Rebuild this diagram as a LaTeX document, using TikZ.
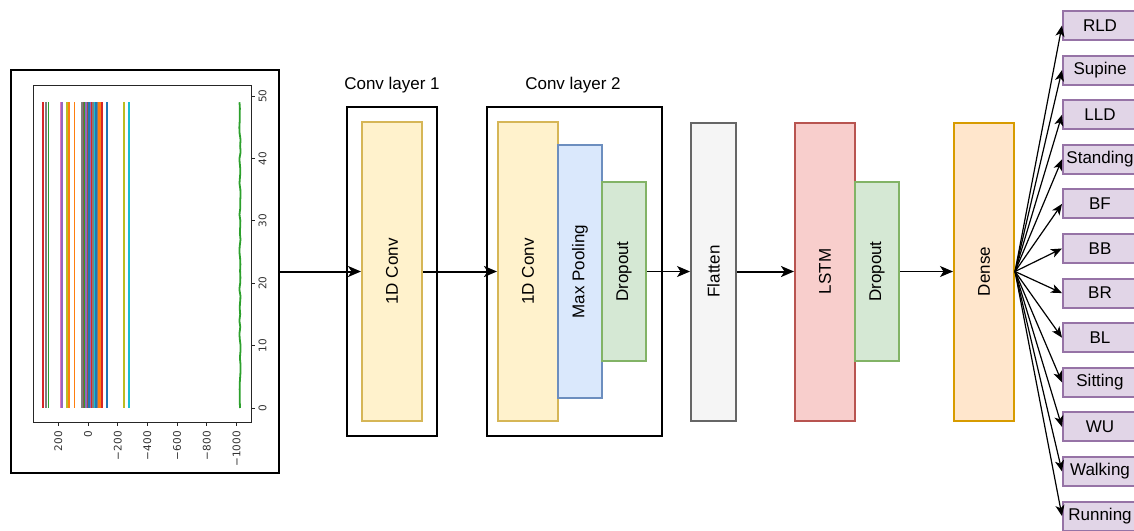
\documentclass[tikz,border=0pt]{standalone}
\usepackage{fontspec}
\setmainfont{Liberation Sans}
\newfontfamily\plotfont{DejaVu Sans}
\usetikzlibrary{arrows.meta}

% layer colours
\definecolor{convfill}{HTML}{FFF2CC}\definecolor{convline}{HTML}{D6B656}
\definecolor{poolfill}{HTML}{DAE8FC}\definecolor{poolline}{HTML}{6C8EBF}
\definecolor{dropfill}{HTML}{D5E8D4}\definecolor{dropline}{HTML}{82B366}
\definecolor{flatfill}{HTML}{F5F5F5}\definecolor{flatline}{HTML}{666666}
\definecolor{lstmfill}{HTML}{F8CECC}\definecolor{lstmline}{HTML}{B85450}
\definecolor{densefill}{HTML}{FFE6CC}\definecolor{denseline}{HTML}{D79B00}
\definecolor{outfill}{HTML}{E1D5E7}\definecolor{outline}{HTML}{9673A6}
% plot line colours
\definecolor{tabblue}{HTML}{1F77B4}\definecolor{taborange}{HTML}{FF7F0E}
\definecolor{tabgreen}{HTML}{2CA02C}\definecolor{tabred}{HTML}{D62728}
\definecolor{tabpurple}{HTML}{9467BD}\definecolor{tabbrown}{HTML}{8C564B}
\definecolor{tabpink}{HTML}{E377C2}\definecolor{tabgray}{HTML}{7F7F7F}
\definecolor{tabolive}{HTML}{BCBD22}\definecolor{tabcyan}{HTML}{17BECF}

\begin{document}
\begin{tikzpicture}[x=1pt, y=-1pt,
  font=\fontsize{17}{20}\selectfont,
  layerbox/.style={rectangle, draw, line width=2pt, inner sep=0pt},
  framebox/.style={rectangle, draw=black, line width=2pt, inner sep=0pt},
  conv/.style={layerbox, draw=convline, fill=convfill},
  pool/.style={layerbox, draw=poolline, fill=poolfill},
  drop/.style={layerbox, draw=dropline, fill=dropfill},
  flat/.style={layerbox, draw=flatline, fill=flatfill},
  lstm/.style={layerbox, draw=lstmline, fill=lstmfill},
  dense/.style={layerbox, draw=denseline, fill=densefill},
  outbox/.style={layerbox, draw=outline, fill=outfill, minimum width=74pt, minimum height=29pt},
  vtext/.style={label={[rotate=90]center:#1}},
  bigarrow/.style={line width=2pt, -{Stealth[length=13pt, width=11pt, inset=3.5pt]}},
  smallarrow/.style={line width=1pt, -{Stealth[length=13pt, width=11pt, inset=3.5pt]}},
  fanarrow/.style={line width=1.2pt, -{Stealth[length=11pt, width=9pt, inset=3pt]}},
  ticklabel/.style={font=\plotfont\fontsize{10.5}{12}\selectfont, text=black!80, rotate=90, inner sep=1pt},
  plotline/.style={line width=1.8pt}
]
\useasboundingbox (0,0) rectangle (1134,530);

% ---------- input signal plot ----------
\node[framebox, line width=2.5pt, minimum width=268pt, minimum height=403pt] (img) at (145,271.5) {};

\foreach \px/\col in {
  43.3/tabred, 46.3/tabgray, 48.5/tabgreen,
  60.5/tabpink, 62/tabpurple, 67/tabolive, 69/taborange, 74.5/taborange,
  82/tabgray, 83.5/tabbrown, 84.8/tabgreen, 86.2/tabpurple, 87.6/tabbrown,
  89/tabblue, 90.4/tabpurple, 91.8/tabred, 93.2/tabgray, 94.6/tabcyan,
  96/tabblue, 97.4/tabgray, 99/taborange, 100.5/taborange, 102/tabred,
  106.7/tabblue, 124.3/tabolive, 129.3/tabcyan}
  \draw[\col, plotline] (\px,102) -- (\px,408);

\pgfmathsetseed{11}
\draw[tabgreen, plotline] plot[smooth, domain=0:49, samples=50, variable=\t]
  ({240+0.7*rand}, {408-6.24*\t});

% axes frame
\draw[black!85, line width=0.8pt] (33,85) rectangle (251,422);

% bottom axis: values 200 ... -1000
\foreach \v/\lab in {200/200, 0/0, -200/−200, -400/−400, -600/−600, -800/−800, -1000/−1000} {
  \pgfmathsetmacro{\xx}{88-0.1485*\v}
  \draw[black!85, line width=0.8pt] (\xx,422) -- (\xx,426);
  \node[ticklabel, anchor=east] at (\xx,430) {\lab};
}
% right axis: samples 0 ... 50
\foreach \t in {0,10,...,50} {
  \pgfmathsetmacro{\yy}{408-6.24*\t}
  \draw[black!85, line width=0.8pt] (251,\yy) -- (255,\yy);
  \node[ticklabel, anchor=north] at (257.5,\yy) {\t};
}

% ---------- convolution blocks ----------
\node[framebox, minimum width=90pt, minimum height=329pt] (cl1) at (392,271.5) {};
\node (cl1title) at (392,85) {Conv layer 1};
\node[conv, minimum width=60pt, minimum height=299pt, vtext={1D Conv}] (conv1) at (392,271.5) {};

\node[framebox, minimum width=175pt, minimum height=329pt] (cl2) at (574.5,271.5) {};
\node (cl2title) at (573,85) {Conv layer 2};
\node[conv, minimum width=60pt, minimum height=299pt, vtext={1D Conv}] (conv2) at (528,271.5) {};
\node[pool, minimum width=44pt, minimum height=253pt, vtext={Max Pooling}] (pool) at (580,271.5) {};
\node[drop, minimum width=44pt, minimum height=179pt, vtext={Dropout}] (drop1) at (624,271.5) {};

% ---------- recurrent part ----------
\node[flat, minimum width=45pt, minimum height=298pt, vtext={Flatten}] (flat) at (713.5,271.5) {};
\node[lstm, minimum width=60pt, minimum height=298pt, vtext={LSTM}] (lstm) at (825,271.5) {};
\node[drop, minimum width=44pt, minimum height=179pt, vtext={Dropout}] (drop2) at (877,271.5) {};
\node[dense, minimum width=60pt, minimum height=298pt, vtext={Dense}] (dense) at (984,271.5) {};

% ---------- main flow ----------
\draw[bigarrow] (img.east) -- (conv1.west);
\draw[bigarrow] (conv1.east) -- (conv2.west);
\draw[smallarrow] (drop1.east) -- (flat.west);
\draw[bigarrow] (flat.east) -- (lstm.west);
\draw[smallarrow] (drop2.east) -- (dense.west);

% ---------- output classes ----------
\foreach \name [count=\i from 0] in {RLD, Supine, LLD, Standing, BF, BB, BR, BL, Sitting, WU, Walking, Running} {
  \node[outbox] (out\i) at (1100,{25.5+44.6*\i}) {\name};
  \draw[fanarrow] (dense.east) -- (out\i.west);
}
\end{tikzpicture}
\end{document}
